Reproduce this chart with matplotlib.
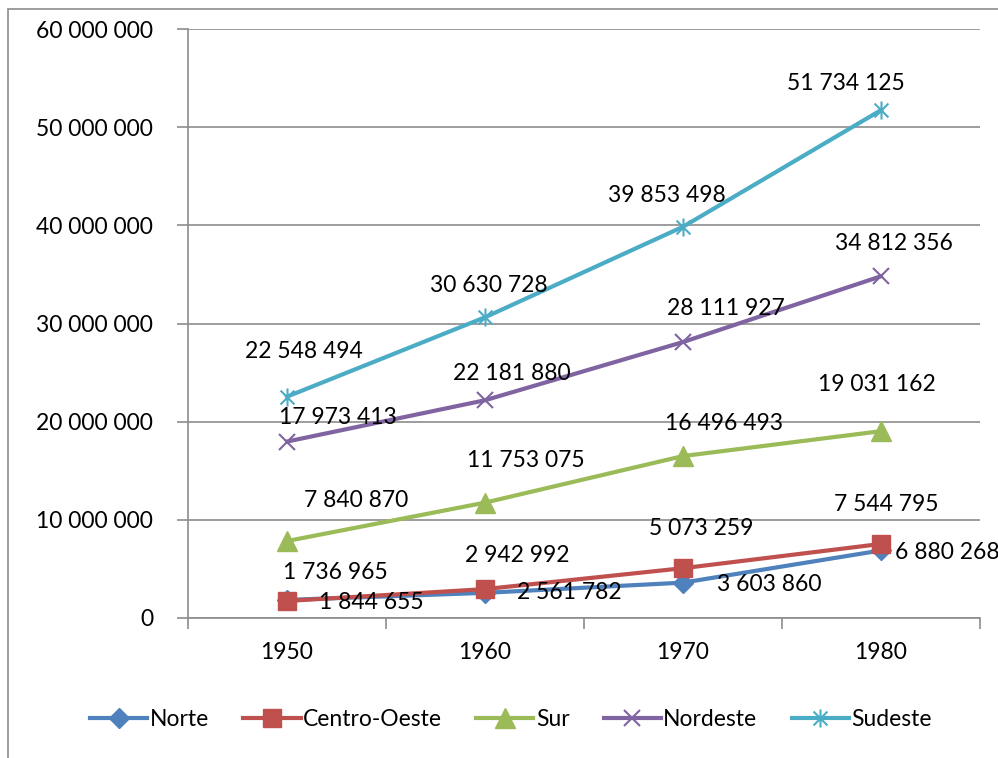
import matplotlib
matplotlib.use('Agg')
import matplotlib.pyplot as plt
from matplotlib.patches import Rectangle
from matplotlib.path import Path

plt.rcParams['font.family'] = ['Lato', 'DejaVu Sans']

## datos
years = ['1950', '1960', '1970', '1980']
series_names = ['Norte', 'Centro-Oeste', 'Sur', 'Nordeste', 'Sudeste']
norte = [1844655, 2561782, 3603860, 6880268]
centro_oeste = [1736965, 2942992, 5073259, 7544795]
sur = [7840870, 11753075, 16496493, 19031162]
nordeste = [17973413, 22181880, 28111927, 34812356]
sudeste = [22548494, 30630728, 39853498, 51734125]

# marcador "estrella" de Excel: una x con una linea vertical
star = Path([(-1, -1), (1, 1), (-1, 1), (1, -1), (0, -1.3), (0, 1.3)],
            [Path.MOVETO, Path.LINETO, Path.MOVETO, Path.LINETO, Path.MOVETO, Path.LINETO])

# colores / marcadores tipo Excel
colors = ['#4F81BD', '#C0504D', '#9BBB59', '#8064A2', '#4BACC6']
markers = ['D', 's', '^', 'x', star]
msizes = [10, 13, 14, 12, 13]

# desplazamiento de etiquetas (pixeles, dx, dy hacia arriba)
label_off = [
    [(84, -3), (84, 0), (86, -2), (66, -2)],
    [(48, 28), (32, 34), (18, 40), (5, 39)],
    [(69, 41), (41, 42), (41, 33), (-4, 47)],
    [(51, 24), (27, 27), (43, 34), (13, 33)],
    [(17, 45), (4, 32), (-16, 31), (-35, 27)],
]

FS = 16.5

def fmt(v):
    return '{:,}'.format(int(v)).replace(',', ' ')

fig = plt.figure(figsize=(9.98, 7.58), dpi=100)
ax = fig.add_axes([188/998, 1 - 618/758, (980 - 188)/998, (618 - 29)/758])

# borde exterior del grafico
fig.patches.append(Rectangle((8/998, -0.05), 1.1, 1 - 9/758 + 0.05, transform=fig.transFigure,
                             fill=False, edgecolor='#8c8c8c', linewidth=1.2))

x = range(len(years))
all_data = [norte, centro_oeste, sur, nordeste, sudeste]
for i, vals in enumerate(all_data):
    ax.plot(x, vals, color=colors[i], linewidth=3, marker=markers[i], markersize=msizes[i],
            markeredgecolor=colors[i], markeredgewidth=1.5 if i >= 3 else 1,
            label=series_names[i], zorder=3 + i, clip_on=False)
    for j, v in enumerate(vals):
        dx, dy = label_off[i][j]
        ax.annotate(fmt(v), (j, v), xytext=(dx * 0.72, dy * 0.72), textcoords='offset points',
                    ha='center', va='center', fontsize=FS, color='black',
                    annotation_clip=False, zorder=10)

ax.set_xlim(-0.5, 3.5)
ax.set_ylim(0, 60000000)
ax.set_yticks(range(0, 60000001, 10000000))
ax.set_yticklabels([fmt(t) for t in range(0, 60000001, 10000000)], fontsize=FS)
ax.set_xticks(list(x))
ax.set_xticklabels(years, fontsize=FS)
ax.set_xticks([-0.5, 0.5, 1.5, 2.5, 3.5], minor=True)
ax.tick_params(axis='x', which='major', length=0, pad=17)
ax.tick_params(axis='x', which='minor', length=8, color='#8c8c8c', width=1.2)
ax.tick_params(axis='y', length=8, color='#8c8c8c', width=1.2, pad=17)
ax.grid(axis='y', color='#8c8c8c', linewidth=1.2)
ax.set_axisbelow(True)
for s in ['top', 'right']:
    ax.spines[s].set_visible(False)
for s in ['left', 'bottom']:
    ax.spines[s].set_color('#8c8c8c')
    ax.spines[s].set_linewidth(1.2)

fig.legend(loc='center', bbox_to_anchor=(0.512, 1 - 720/758), ncol=5, frameon=False,
           fontsize=FS, handlelength=2.5, handletextpad=0.1, columnspacing=1.5)

fig.savefig('out.png', dpi=100)
